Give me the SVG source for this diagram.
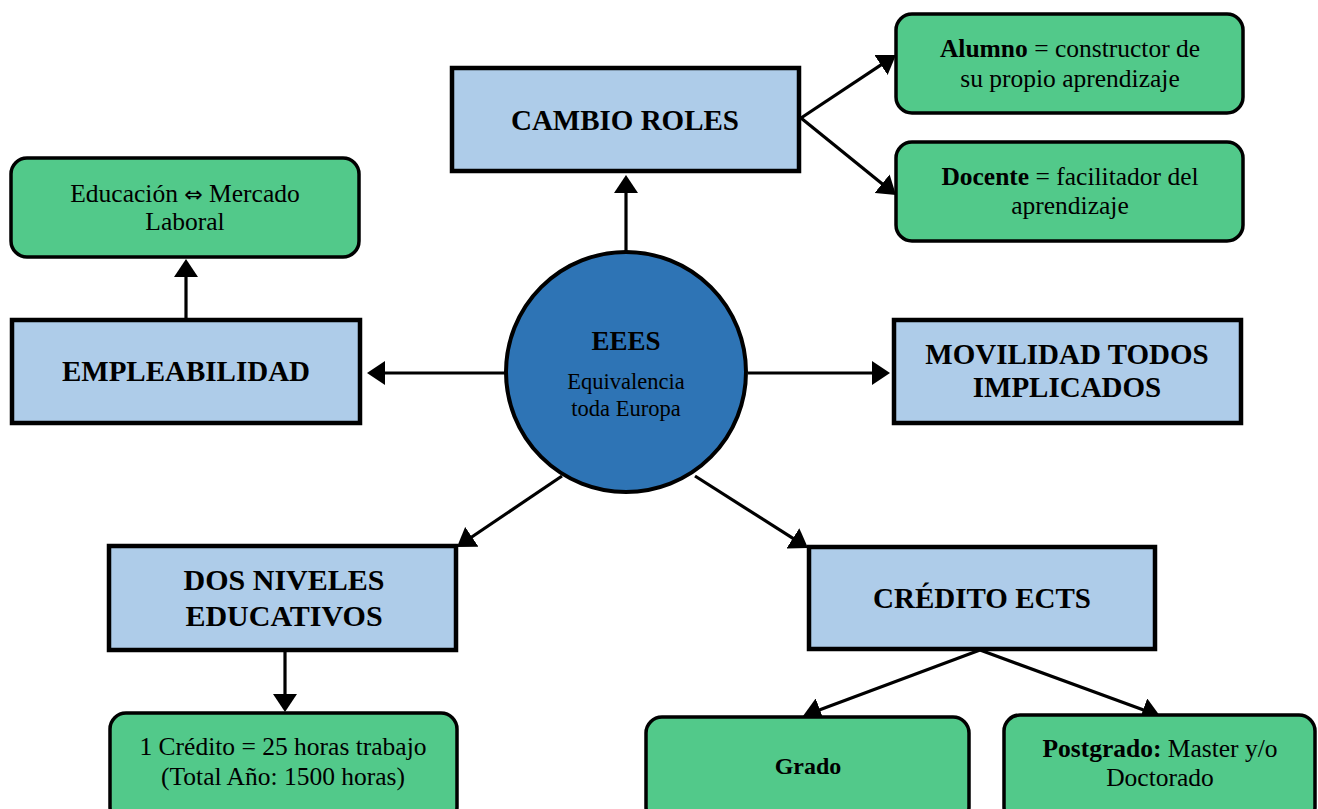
<svg xmlns="http://www.w3.org/2000/svg" width="1318" height="809" viewBox="0 0 1318 809">
<style>
.blue{fill:#AECCE9;stroke:#000;stroke-width:4.5}
.green{fill:#52C98A;stroke:#000;stroke-width:3.5}
.hd{font-family:"Liberation Serif","Times New Roman",serif;font-weight:bold;font-size:29px;fill:#000;text-anchor:middle}
.tx{font-family:"Liberation Serif","Times New Roman",serif;font-size:25.5px;fill:#000;text-anchor:middle}
.b{font-weight:bold}
.sym{font-family:"DejaVu Sans",sans-serif;font-size:22px}
.cn{stroke:#000;stroke-width:3.2;fill:none;marker-end:url(#ah)}
</style>
<defs>
<marker id="ah" markerUnits="userSpaceOnUse" markerWidth="18" markerHeight="24" refX="10" refY="12" orient="auto" viewBox="0 0 18 24">
<path d="M0,0 L18,12 L0,24 z" fill="#000"/>
</marker>
</defs>
<rect width="1318" height="809" fill="#fff"/>
<g id="connectors">
<line class="cn" x1="626" y1="251" x2="626" y2="183"/>
<line class="cn" x1="801" y1="118" x2="889.3" y2="59.4"/>
<line class="cn" x1="801" y1="118" x2="889.8" y2="190"/>
<line class="cn" x1="505" y1="373" x2="375" y2="373"/>
<line class="cn" x1="186" y1="318" x2="186" y2="267"/>
<line class="cn" x1="748" y1="373" x2="882" y2="373"/>
<line class="cn" x1="562" y1="476" x2="463.6" y2="542.5"/>
<line class="cn" x1="695" y1="476" x2="801.3" y2="543.7"/>
<line class="cn" x1="285" y1="652" x2="285" y2="704"/>
<line class="cn" x1="980" y1="650" x2="810.5" y2="713.2"/>
<line class="cn" x1="980" y1="650" x2="1152.5" y2="713.2"/>
</g>
<g id="eees">
<circle cx="626" cy="372" r="120" fill="#2E74B5" stroke="#000" stroke-width="4"/>
<text class="hd" x="626" y="350" style="font-size:27px">EEES</text>
<text class="tx" x="626" y="389" style="font-size:22.5px">Equivalencia</text>
<text class="tx" x="626" y="416" style="font-size:22.5px">toda Europa</text>
</g>
<g id="cambio-roles">
<rect class="blue" x="452" y="68" width="347" height="103"/>
<text class="hd" x="625" y="130">CAMBIO ROLES</text>
</g>
<g id="alumno">
<rect class="green" x="896" y="14" width="347" height="99" rx="16"/>
<text class="tx" x="1070" y="57"><tspan class="b">Alumno</tspan> = constructor de</text>
<text class="tx" x="1070" y="87">su propio aprendizaje</text>
</g>
<g id="docente">
<rect class="green" x="896" y="142" width="347" height="99" rx="16"/>
<text class="tx" x="1070" y="185"><tspan class="b">Docente</tspan> = facilitador del</text>
<text class="tx" x="1070" y="214">aprendizaje</text>
</g>
<g id="educacion">
<rect class="green" x="11" y="158" width="348" height="99" rx="16"/>
<text class="tx" x="185" y="202">Educación <tspan class="sym">⇔</tspan> Mercado</text>
<text class="tx" x="185" y="230">Laboral</text>
</g>
<g id="empleabilidad">
<rect class="blue" x="12" y="320" width="348" height="103"/>
<text class="hd" x="186" y="381">EMPLEABILIDAD</text>
</g>
<g id="movilidad">
<rect class="blue" x="894" y="320" width="347" height="103"/>
<text class="hd" x="1067" y="364">MOVILIDAD TODOS</text>
<text class="hd" x="1067" y="397">IMPLICADOS</text>
</g>
<g id="dos-niveles">
<rect class="blue" x="109" y="546" width="347" height="104"/>
<text class="hd" x="284" y="590" style="font-size:30px">DOS NIVELES</text>
<text class="hd" x="284" y="626" style="font-size:30px">EDUCATIVOS</text>
</g>
<g id="credito-ects">
<rect class="blue" x="809" y="547" width="346" height="102"/>
<text class="hd" x="982" y="608">CRÉDITO ECTS</text>
</g>
<g id="un-credito">
<rect class="green" x="110" y="713" width="347" height="110" rx="16"/>
<text class="tx" x="283" y="755">1 Crédito = 25 horas trabajo</text>
<text class="tx" x="283" y="785">(Total Año: 1500 horas)</text>
</g>
<g id="grado">
<rect class="green" x="646" y="717" width="323" height="106" rx="16"/>
<text class="tx b" x="808" y="774" style="font-size:24px">Grado</text>
</g>
<g id="postgrado">
<rect class="green" x="1004" y="715" width="311" height="108" rx="16"/>
<text class="tx" x="1160" y="757"><tspan class="b">Postgrado:</tspan> Master y/o</text>
<text class="tx" x="1160" y="786">Doctorado</text>
</g>
</svg>
